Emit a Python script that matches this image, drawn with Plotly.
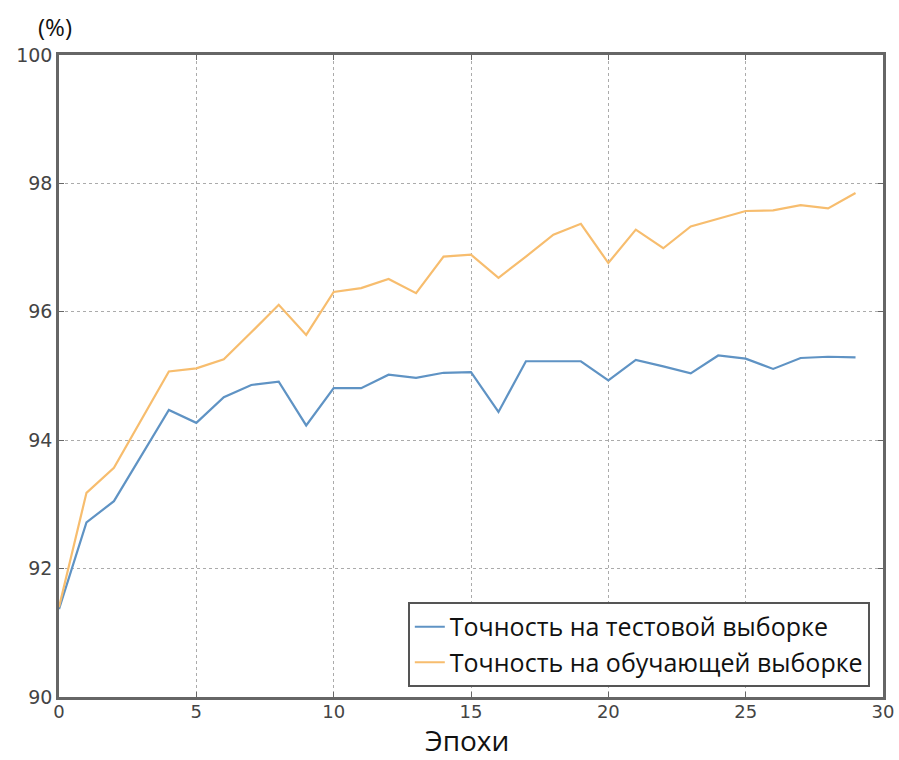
import plotly.graph_objects as go

epochs = list(range(30))
test_acc = [91.37, 92.72, 93.05, 93.76, 94.47, 94.27, 94.67, 94.86, 94.91, 94.23,
            94.81, 94.81, 95.02, 94.97, 95.05, 95.06, 94.44, 95.23, 95.23, 95.23,
            94.93, 95.25, 95.15, 95.04, 95.32, 95.27, 95.11, 95.28, 95.30, 95.29]
train_acc = [91.40, 93.18, 93.57, 94.33, 95.07, 95.12, 95.26, 95.68, 96.11, 95.64,
             96.31, 96.37, 96.51, 96.29, 96.86, 96.89, 96.53, 96.86, 97.20, 97.37,
             96.76, 97.28, 96.99, 97.33, 97.45, 97.57, 97.58, 97.66, 97.61, 97.85]
series_names = ["Точность на тестовой выборке", "Точность на обучающей выборке"]
x_ticks = [0, 5, 10, 15, 20, 25, 30]
y_ticks = [90, 92, 94, 96, 98, 100]

fig = go.Figure()
fig.add_trace(go.Scatter(x=epochs, y=test_acc, mode="lines", name=series_names[0],
                         line=dict(color="#5f93c4", width=2.2)))
fig.add_trace(go.Scatter(x=epochs, y=train_acc, mode="lines", name=series_names[1],
                         line=dict(color="#f7bd6e", width=2.2)))

axis_common = dict(
    showline=True, linecolor="#666666", linewidth=2.5, mirror="ticks",
    ticks="inside", ticklen=5, tickcolor="#666666", tickwidth=1,
    showgrid=True, gridcolor="#ababab", griddash="dot", gridwidth=1,
    zeroline=False, automargin=False,
)

fig.update_xaxes(range=[0, 30], tickvals=x_ticks, ticklabelstandoff=-3,
                 tickfont=dict(family="DejaVu Sans", size=18, color="#444444"), **axis_common)
fig.update_yaxes(range=[90, 100], tickvals=y_ticks,
                 tickfont=dict(family="DejaVu Sans", size=19, color="#444444"), **axis_common)

fig.add_annotation(text="Эпохи", xref="paper", yref="paper", x=0.495, y=-0.0981,
                   xanchor="center", yanchor="bottom", showarrow=False, borderpad=0,
                   font=dict(family="Open Sans", size=28, color="#111111"))
fig.add_annotation(text="(%)", xref="paper", yref="paper", x=-0.005, y=1.044,
                   xanchor="center", yanchor="middle", showarrow=False,
                   font=dict(family="Open Sans", size=24, color="#111111"))

fig.update_layout(
    width=899, height=760,
    margin=dict(l=59, r=16, t=55, b=63),
    paper_bgcolor="white", plot_bgcolor="white",
    showlegend=True,
    legend=dict(x=0.984, y=0.0156, xanchor="right", yanchor="bottom",
                bgcolor="white", bordercolor="#555555", borderwidth=2,
                font=dict(family="Open Sans", size=25, color="#111111"),
                tracegroupgap=0, itemwidth=30),
)

fig.write_html("out.html")
